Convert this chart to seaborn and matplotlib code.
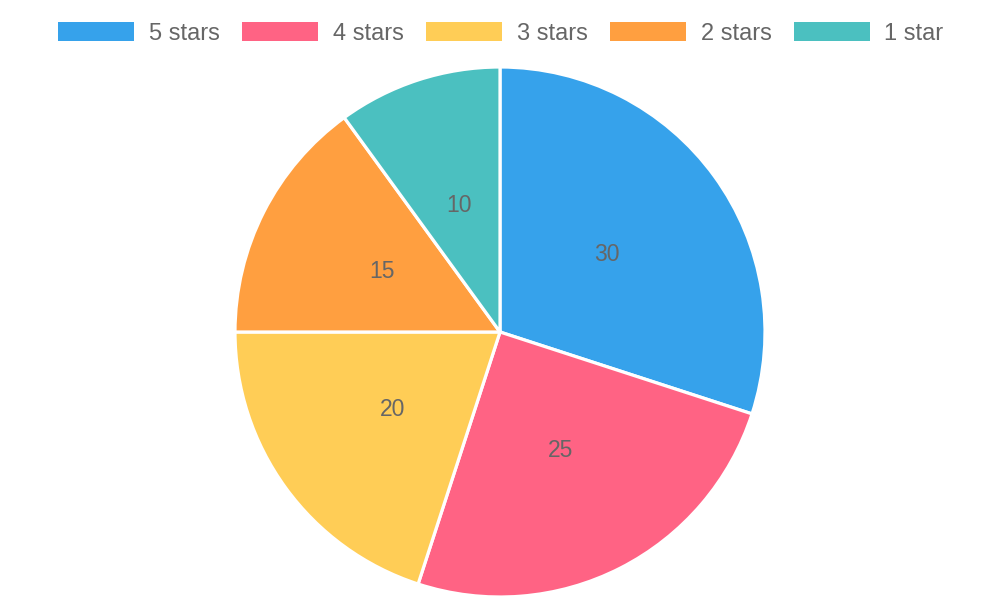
import matplotlib
matplotlib.use('Agg')
import matplotlib.pyplot as plt
import seaborn as sns

# Dados
categorias = ['5 stars', '4 stars', '3 stars', '2 stars', '1 star']
valores = [30, 25, 20, 15, 10]
cores = ['#36A2EB', '#FF6384', '#FFCD56', '#FF9F40', '#4BC0C0']

sns.set_theme(style='white')
plt.rcParams['font.family'] = ['Liberation Sans', 'DejaVu Sans']

fig = plt.figure(figsize=(10, 6), dpi=100)
ax = fig.add_axes([0, 0, 1, 1])

wedges, textos = ax.pie(
    valores,
    colors=cores,
    startangle=90,
    counterclock=False,
    center=(500, 600 - 332),
    radius=265,
    labels=[str(v) for v in valores],
    labeldistance=0.5,
    wedgeprops=dict(edgecolor='white', linewidth=2.3),
    textprops=dict(color='#666666', fontsize=16.5, ha='center', va='center'),
    frame=True,
)
ax.set_xlim(0, 1000)
ax.set_ylim(0, 600)
ax.set_aspect('equal')
ax.axis('off')

leg = ax.legend(
    wedges, categorias,
    loc='upper center', bbox_to_anchor=(0.501, 1.004),
    ncol=5, frameon=False,
    fontsize=17, labelcolor='#666666',
    handlelength=3.22, handleheight=0.85, handletextpad=0.6,
    columnspacing=0.97, borderpad=0.55,
)
for h in leg.legend_handles:
    h.set_edgecolor('none')

fig.savefig('out.png', dpi=100)
